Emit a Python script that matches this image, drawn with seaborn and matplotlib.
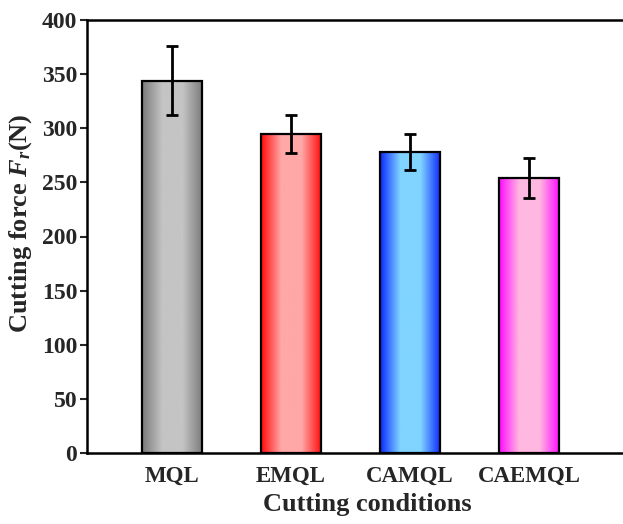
import numpy as np
import pandas as pd
import matplotlib
matplotlib.use("Agg")
import matplotlib.pyplot as plt
import seaborn as sns
from matplotlib.colors import LinearSegmentedColormap

categories = ["MQL", "EMQL", "CAMQL", "CAEMQL"]
forces = [344, 295, 278, 254]
errors = [32, 17.5, 16.5, 18.5]
edge_colors = ["#7a7a7a", "#ff0a0a", "#0a28ff", "#ff0aff"]
center_colors = ["#c4c4c4", "#ffa8a8", "#80d4ff", "#ffb8e0"]
yticks = [0, 50, 100, 150, 200, 250, 300, 350, 400]

sns.set_style("ticks")
plt.rcParams["font.family"] = ["Liberation Serif", "DejaVu Serif"]
plt.rcParams["font.weight"] = "bold"
plt.rcParams["mathtext.fontset"] = "custom"
plt.rcParams["mathtext.rm"] = "Liberation Serif:bold"
plt.rcParams["mathtext.it"] = "Liberation Serif:italic:bold"
plt.rcParams["mathtext.bf"] = "Liberation Serif:bold"

df = pd.DataFrame({"condition": categories, "force": forces})

fig = plt.figure(figsize=(6.23, 5.24), dpi=100)
ax = fig.add_axes([87 / 623, 71 / 524, 560 / 623, 433 / 524])

sns.barplot(data=df, x="condition", y="force", ax=ax, width=0.51,
            color="white", edgecolor="black", linewidth=1.6, zorder=3)

for i, patch in enumerate(ax.patches):
    x0, y0 = patch.get_x(), patch.get_y()
    w, h = patch.get_width(), patch.get_height()
    cmap = LinearSegmentedColormap.from_list(
        f"g{i}", [edge_colors[i], center_colors[i], center_colors[i], edge_colors[i]])
    grad = np.linspace(0, 1, 256).reshape(1, -1)
    im = ax.imshow(grad, cmap=cmap, aspect="auto",
                   extent=[x0, x0 + w, y0, y0 + h], zorder=2)
    im.set_clip_path(patch)
    patch.set_facecolor("none")

ax.errorbar(range(len(categories)), forces, yerr=errors, fmt="none",
            ecolor="black", elinewidth=2, capsize=4, capthick=2, zorder=4)

ax.set_xlim(-0.714, 3.99)
ax.set_ylim(0, 400)
ax.set_yticks(yticks)
ax.set_yticklabels([str(t) for t in yticks], fontsize=17, fontweight="bold")
ax.set_xticks(range(len(categories)))
ax.set_xticklabels(categories, fontsize=16.5, fontweight="bold")
ax.tick_params(axis="x", length=0, pad=9)
ax.tick_params(axis="y", length=5, width=1.5, direction="out", pad=2)

for s in ax.spines.values():
    s.set_linewidth(1.8)
    s.set_color("black")

ax.set_xlabel("Cutting conditions", fontsize=19, fontweight="bold", labelpad=5)
ax.set_ylabel(r"Cutting force $\mathit{F}_{r}$(N)", fontsize=19, fontweight="bold")
ax.yaxis.set_label_coords(-0.095, 0.53)

fig.savefig("out.png", dpi=100)
